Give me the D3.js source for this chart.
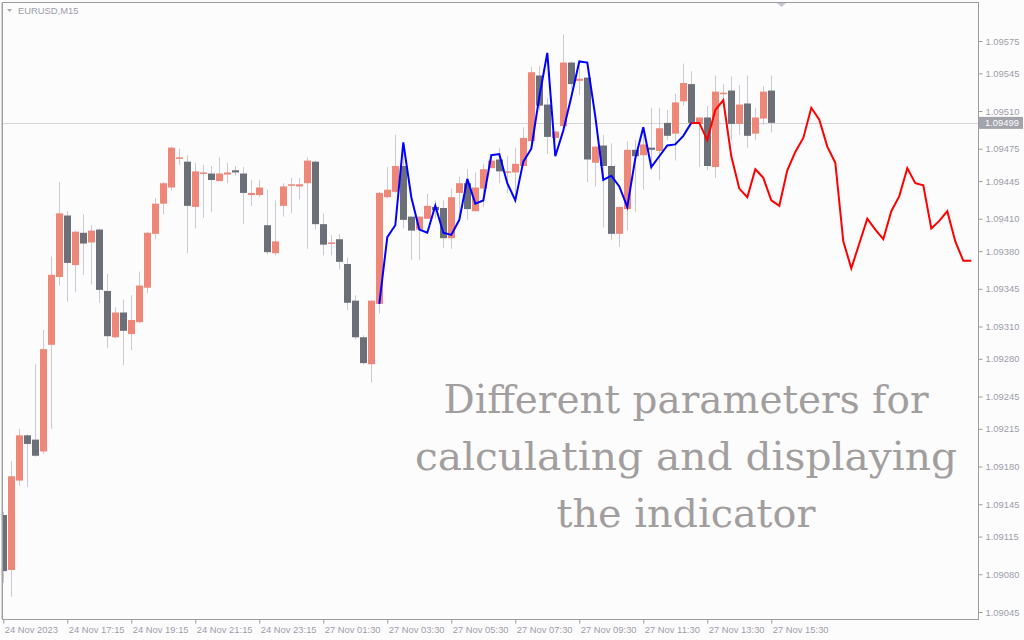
<!DOCTYPE html>
<html><head><meta charset="utf-8">
<script src="https://cdn.jsdelivr.net/npm/d3@7"></script>
<style>html,body{margin:0;padding:0;background:#fcfcfd;} svg{display:block}</style>
</head><body><svg id="c" width="1024" height="640"></svg>
<script>
const symbolTitle = "EURUSD,M15";
const timeLabels = ["24 Nov 2023","24 Nov 17:15","24 Nov 19:15","24 Nov 21:15","24 Nov 23:15","27 Nov 01:30","27 Nov 03:30","27 Nov 05:30","27 Nov 07:30","27 Nov 09:30","27 Nov 11:30","27 Nov 13:30","27 Nov 15:30"];
const timeTickIdx = [0,8,16,24,32,40,48,56,64,72,80,88,96];
const priceTicks = [1.09575,1.09545,1.09510,1.09475,1.09445,1.09410,1.09380,1.09345,1.09310,1.09280,1.09245,1.09215,1.09180,1.09145,1.09115,1.09080,1.09045];

const open = [1.09135,1.09084,1.09167,1.09209,1.09205,1.09194,1.09293,1.09356,1.09413,1.09367,
1.09397,1.09388,1.09400,1.09343,1.09300,1.09323,1.09303,1.09314,1.09346,1.09396,
1.09424,1.09439,1.09466,1.09463,1.09421,1.09452,1.09452,1.09445,1.09451,1.09455,
1.09452,1.09432,1.09432,1.09404,1.09378,1.09422,1.09441,1.09440,1.09443,1.09463,
1.09405,1.09387,1.09391,1.09368,1.09334,1.09300,1.09275,1.09331,1.09430,1.09435,
1.09459,1.09412,1.09400,1.09410,1.09421,1.09420,1.09392,1.09434,1.09443,1.09417,
1.09438,1.09457,1.09465,1.09453,1.09453,1.09459,1.09482,1.09543,1.09516,1.09485,
1.09496,1.09555,1.09538,1.09541,1.09462,1.09478,1.09459,1.09396,1.09419,1.09474,
1.09469,1.09476,1.09473,1.09499,1.09489,1.09519,1.09535,1.09498,1.09504,1.09458,
1.09526,1.09529,1.09498,1.09517,1.09489,1.09503,1.09529];
const close = [1.09083,1.09171,1.09209,1.09201,1.09190,1.09289,1.09358,1.09415,1.09369,1.09398,
1.09387,1.09399,1.09344,1.09301,1.09323,1.09306,1.09316,1.09348,1.09397,1.09424,
1.09443,1.09476,1.09467,1.09422,1.09454,1.09453,1.09446,1.09452,1.09453,1.09453,
1.09434,1.09434,1.09439,1.09379,1.09389,1.09440,1.09442,1.09442,1.09464,1.09405,
1.09386,1.09388,1.09370,1.09332,1.09300,1.09276,1.09334,1.09434,1.09437,1.09459,
1.09409,1.09399,1.09412,1.09422,1.09418,1.09392,1.09430,1.09443,1.09419,1.09439,
1.09456,1.09464,1.09454,1.09454,1.09461,1.09485,1.09546,1.09515,1.09486,1.09491,
1.09555,1.09535,1.09540,1.09465,1.09477,1.09459,1.09396,1.09421,1.09474,1.09468,
1.09479,1.09474,1.09494,1.09487,1.09518,1.09536,1.09499,1.09504,1.09459,1.09528,
1.09527,1.09498,1.09516,1.09487,1.09504,1.09528,1.09499];
const high = [1.09138,1.09185,1.09215,1.09210,1.09275,1.09307,1.09375,1.09444,1.09417,1.09399,
1.09414,1.09404,1.09401,1.09359,1.09328,1.09335,1.09339,1.09361,1.09398,1.09429,
1.09444,1.09477,1.09475,1.09469,1.09462,1.09460,1.09459,1.09467,1.09462,1.09459,
1.09458,1.09446,1.09446,1.09437,1.09427,1.09443,1.09448,1.09448,1.09467,1.09464,
1.09415,1.09395,1.09396,1.09374,1.09339,1.09302,1.09334,1.09435,1.09458,1.09488,
1.09481,1.09412,1.09412,1.09433,1.09427,1.09427,1.09438,1.09449,1.09456,1.09453,
1.09461,1.09469,1.09476,1.09468,1.09476,1.09495,1.09551,1.09552,1.09522,1.09491,
1.09581,1.09556,1.09556,1.09541,1.09477,1.09488,1.09480,1.09421,1.09482,1.09483,
1.09494,1.09513,1.09513,1.09511,1.09526,1.09554,1.09547,1.09504,1.09515,1.09543,
1.09535,1.09542,1.09534,1.09543,1.09513,1.09533,1.09543];
const low = [1.09072,1.09059,1.09162,1.09161,1.09189,1.09192,1.09215,1.09348,1.09333,1.09342,
1.09358,1.09349,1.09332,1.09290,1.09299,1.09274,1.09288,1.09313,1.09341,1.09391,
1.09414,1.09436,1.09460,1.09378,1.09401,1.09411,1.09416,1.09445,1.09443,1.09450,
1.09405,1.09422,1.09430,1.09377,1.09376,1.09412,1.09415,1.09428,1.09382,1.09400,
1.09376,1.09376,1.09363,1.09325,1.09298,1.09275,1.09258,1.09322,1.09429,1.09434,
1.09401,1.09372,1.09372,1.09410,1.09411,1.09383,1.09382,1.09409,1.09409,1.09417,
1.09421,1.09457,1.09443,1.09434,1.09426,1.09459,1.09479,1.09511,1.09470,1.09483,
1.09492,1.09530,1.09525,1.09444,1.09440,1.09402,1.09390,1.09384,1.09399,1.09416,
1.09437,1.09455,1.09446,1.09483,1.09464,1.09515,1.09499,1.09458,1.09455,1.09448,
1.09520,1.09483,1.09488,1.09476,1.09483,1.09497,1.09490];

const calcStart = 47;
const calcValues = [1.09331,1.09393,1.09404,1.09481,1.09430,1.09400,1.09397,1.09422,1.09397,1.09395,
1.09409,1.09447,1.09424,1.09427,1.09469,1.09470,1.09443,1.09427,1.09463,1.09475,
1.09523,1.09564,1.09468,1.09492,1.09523,1.09556,1.09555,1.09505,1.09446,1.09450,
1.09440,1.09421,1.09466,1.09495,1.09458,1.09468,1.09478,1.09479,1.09487,1.09499];
const forecastStart = 86;
const forecastValues = [1.09499,1.09499,1.09483,1.09511,1.09520,1.09468,1.09438,1.09430,1.09456,1.09448,
1.09427,1.09422,1.09455,1.09472,1.09485,1.09513,1.09502,1.09477,1.09462,1.09389,
1.09364,1.09387,1.09410,1.09400,1.09391,1.09417,1.09431,1.09457,1.09443,1.09441,
1.09401,1.09408,1.09417,1.09389,1.09371,1.09371];
const lastPrice = 1.09499;
const noteLines = ["Different parameters for","calculating and displaying","the indicator"];

const svg = d3.select('#c');
const L = 3, R = 978, T = 3, B = 619;
const x = d3.scaleLinear().domain([0, 96]).range([3.3, 771.3]);
const y = d3.scaleLinear().domain([1.09045, 1.09575]).range([612, 41]);

svg.append('rect').attr('width',1024).attr('height',640).attr('fill','#fcfcfd');

svg.append('defs').append('clipPath').attr('id','plot')
  .append('rect').attr('x',L).attr('y',T).attr('width',R-L).attr('height',B-T);

const plot = svg.append('g').attr('clip-path','url(#plot)');

// current price line
plot.append('line').attr('x1',L).attr('x2',R)
  .attr('y1',Math.round(y(lastPrice))+0.5).attr('y2',Math.round(y(lastPrice))+0.5)
  .attr('stroke','#d4d4da').attr('stroke-width',1);

const idx = d3.range(open.length);
const cx = i => Math.round(x(i));
// wicks
plot.append('g').selectAll('line').data(idx).join('line')
  .attr('x1', i => cx(i)+0.5).attr('x2', i => cx(i)+0.5)
  .attr('y1', i => y(high[i])).attr('y2', i => y(low[i]))
  .attr('stroke','#c9c9d3').attr('stroke-width',1);
// bodies
plot.append('g').selectAll('rect').data(idx).join('rect')
  .attr('x', i => cx(i)-3).attr('width', 7)
  .attr('y', i => y(Math.max(open[i], close[i])))
  .attr('height', i => Math.max(1.5, Math.abs(y(open[i]) - y(close[i]))))
  .attr('fill', i => close[i] >= open[i] ? '#ee8777' : '#6b6f77');

const line = d3.line().x(d => x(d[0])).y(d => y(d[1]));
plot.append('path')
  .datum(calcValues.map((v,k) => [calcStart+k, v]))
  .attr('d', line).attr('fill','none').attr('stroke','#0000ff').attr('stroke-width',2);
plot.append('path')
  .datum(forecastValues.map((v,k) => [forecastStart+k, v]))
  .attr('d', line).attr('fill','none').attr('stroke','#ff0000').attr('stroke-width',2);

// frame
svg.append('rect').attr('x',L-0.5).attr('y',T-0.5).attr('width',R-L+1).attr('height',B-T+1)
  .attr('fill','none').attr('stroke','#9c9c9c').attr('stroke-width',1);
svg.append('line').attr('x1',2).attr('x2',2).attr('y1',T).attr('y2',B).attr('stroke','#a4a4a4');

// y axis
const yAxis = d3.axisRight(y).tickValues(priceTicks).tickSize(4).tickPadding(3)
  .tickFormat(d3.format('.5f'));
const yg = svg.append('g').attr('transform',`translate(${R+0.5},0)`).call(yAxis);
yg.select('.domain').remove();
yg.selectAll('line').attr('stroke','#9c9c9c');
yg.selectAll('text').attr('fill','#9d9da8').attr('font-family','Liberation Sans, Arial, sans-serif').attr('font-size','9.4px');

// last price label
const ly = y(lastPrice);
svg.append('rect').attr('x',R+1).attr('y',ly-6).attr('width',44).attr('height',12).attr('fill','#a3a3ab');
svg.append('text').attr('x',R+7).attr('y',ly).attr('dy','0.34em').text(d3.format('.5f')(lastPrice))
  .attr('fill','#ffffff').attr('font-family','Liberation Sans, Arial, sans-serif').attr('font-size','9.4px');

// x axis
const xAxis = d3.axisBottom(x).tickValues(timeTickIdx).tickSize(4).tickPadding(3)
  .tickFormat((d,k) => timeLabels[k]);
const xg = svg.append('g').attr('transform',`translate(0,${B+0.5})`).call(xAxis);
xg.select('.domain').remove();
xg.selectAll('line').attr('stroke','#9c9c9c');
xg.selectAll('text').attr('text-anchor','start').attr('dx','1')
  .attr('fill','#9d9da8').attr('font-family','Liberation Sans, Arial, sans-serif').attr('font-size','9.4px');

// title
svg.append('path').attr('d','M7,9 L12,9 L9.5,12 Z').attr('fill','#a8a8b0');
svg.append('text').attr('x',18).attr('y',14).text(symbolTitle)
  .attr('fill','#9d9da8').attr('font-family','Liberation Sans, Arial, sans-serif').attr('font-size','9.4px');
svg.append('path').attr('d','M777,3 L786,3 L781.5,7 Z').attr('fill','#c8c8d2');

// annotation text
const noteBase = [413, 470, 527];
const noteWidth = [485, 542, 259];
svg.append('g').selectAll('text').data(noteLines).join('text')
  .attr('x', 686).attr('y', (d,k) => noteBase[k])
  .attr('text-anchor','middle')
  .attr('textLength', (d,k) => noteWidth[k]).attr('lengthAdjust','spacingAndGlyphs')
  .attr('font-family','DejaVu Serif, serif').attr('font-size','38.5px')
  .attr('fill','#a29e9e').text(d => d);
</script></body></html>
